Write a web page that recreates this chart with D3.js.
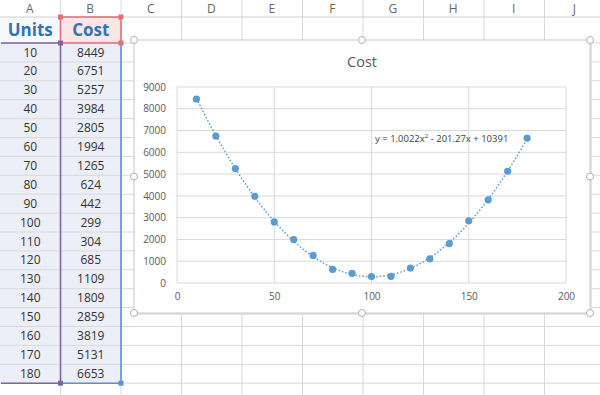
<!DOCTYPE html>
<html>
<head>
<meta charset="utf-8">
<script src="https://cdn.jsdelivr.net/npm/d3@7"></script>
<style>
  body { margin: 0; background: #fff; }
  svg { display: block; font-family: "Open Sans", "Liberation Sans", sans-serif; }
</style>
</head>
<body>
<svg id="sheet" width="600" height="395"></svg>
<script>
// spreadsheet data
const units = [10, 20, 30, 40, 50, 60, 70, 80, 90, 100, 110, 120, 130, 140, 150, 160, 170, 180];
const cost = [8449, 6751, 5257, 3984, 2805, 1994, 1265, 624, 442, 299, 304, 685, 1109, 1809, 2859, 3819, 5131, 6653];
const colLetters = ["A", "B", "C", "D", "E", "F", "G", "H", "I", "J"];
const xTicks = [0, 50, 100, 150, 200];
const yTicks = [0, 1000, 2000, 3000, 4000, 5000, 6000, 7000, 8000, 9000];
// trendline coefficients as printed on the chart (a, b, c)
const trendCoef = [1.0022, -201.27, 10391];

const svg = d3.select("#sheet");

// ---- grid of cells ----
const COL_W = 60.5;
const HEAD_H = 17, ROW1_B = 43, ROW_H = 18.9;
const colX = i => i * COL_W;       // left edge of column i
const rowY = i => ROW1_B + i * ROW_H; // top of data row i

const grid = svg.append("g");

// tinted selection cells
grid.append("rect").attr("x", 0).attr("y", HEAD_H).attr("width", colX(1)).attr("height", ROW1_B - HEAD_H).attr("fill", "#f7f8fb");
grid.append("rect").attr("x", colX(1)).attr("y", HEAD_H).attr("width", COL_W).attr("height", ROW1_B - HEAD_H).attr("fill", "#fbe6e7");
grid.append("rect").attr("x", 0).attr("y", ROW1_B).attr("width", colX(2)).attr("height", ROW_H * units.length).attr("fill", "#eceff7");

// gridlines
for (let i = 1; i <= 10; i++) {
  grid.append("line").attr("x1", colX(i)).attr("x2", colX(i)).attr("y1", 0).attr("y2", 395)
    .attr("stroke", "#d9d9d9");
}
grid.append("line").attr("x1", 0).attr("x2", 600).attr("y1", HEAD_H).attr("y2", HEAD_H).attr("stroke", "#cfcfcf");
grid.append("line").attr("x1", 0).attr("x2", 600).attr("y1", ROW1_B).attr("y2", ROW1_B).attr("stroke", "#d9d9d9");
for (let i = 1; i <= 19; i++) {
  grid.append("line").attr("x1", 0).attr("x2", 600).attr("y1", rowY(i)).attr("y2", rowY(i))
    .attr("stroke", "#d9d9d9");
}

// column letters
grid.selectAll("text.col").data(colLetters).join("text")
  .attr("x", (d, i) => colX(i) + COL_W / 2 - 0.5)
  .attr("y", 13)
  .attr("text-anchor", "middle")
  .attr("font-size", 12)
  .attr("fill", "#666")
  .text(d => d);

// header row
grid.append("text").attr("x", COL_W / 2).attr("y", 36).attr("text-anchor", "middle")
  .attr("font-size", 17).attr("font-weight", "bold").attr("fill", "#2f75b5").text("Units");
grid.append("text").attr("x", COL_W * 1.5).attr("y", 36).attr("text-anchor", "middle")
  .attr("font-size", 17).attr("font-weight", "bold").attr("fill", "#2f75b5").text("Cost");

// values
grid.selectAll("text.u").data(units).join("text")
  .attr("x", COL_W / 2).attr("y", (d, i) => rowY(i) + 13.5)
  .attr("text-anchor", "middle").attr("font-size", 12).attr("fill", "#333").text(d => d);
grid.selectAll("text.c").data(cost).join("text")
  .attr("x", COL_W * 1.5).attr("y", (d, i) => rowY(i) + 13.5)
  .attr("text-anchor", "middle").attr("font-size", 12).attr("fill", "#333").text(d => d);

// range highlight borders
const yEnd = rowY(units.length);
const purple = "#8064a2", blue = "#5b8fd6", red = "#e0707a";
grid.append("path").attr("d", `M1,${ROW1_B}H${colX(1)}V${yEnd}H1`).attr("fill", "none").attr("stroke", purple).attr("stroke-width", 1.6);
grid.append("path").attr("d", `M${colX(1)},${yEnd}H${colX(2)}V${ROW1_B}`).attr("fill", "none").attr("stroke", blue).attr("stroke-width", 1.6);
grid.append("path").attr("d", `M${colX(1)},${ROW1_B}V${HEAD_H}H${colX(2)}V${ROW1_B}H${colX(1)}`).attr("fill", "none").attr("stroke", red).attr("stroke-width", 1.6);
[[colX(1), HEAD_H, red], [colX(2), HEAD_H, red], [colX(2), ROW1_B, red], [colX(1), ROW1_B, purple],
 [colX(1), yEnd, purple], [colX(2), yEnd, blue]].forEach(([x, y, c]) => {
  grid.append("rect").attr("x", x - 2.5).attr("y", y - 2.5).attr("width", 5).attr("height", 5).attr("fill", c);
});

// ---- chart ----
const frame = { x: 134, y: 40, w: 456, h: 273 };
const chartG = svg.append("g");
chartG.append("rect").attr("x", frame.x + 2).attr("y", frame.y + 2).attr("width", frame.w).attr("height", frame.h)
  .attr("fill", "#e4e4e4");
chartG.append("rect").attr("x", frame.x).attr("y", frame.y).attr("width", frame.w).attr("height", frame.h)
  .attr("fill", "#fff").attr("stroke", "#c8c8c8");

const xScale = d3.scaleLinear().domain([0, 200]).range([177, 566]);
const yScale = d3.scaleLinear().domain([0, 9000]).range([283, 87]);

// gridlines
chartG.selectAll("line.hg").data(yTicks).join("line")
  .attr("x1", xScale(0)).attr("x2", xScale(200))
  .attr("y1", d => yScale(d)).attr("y2", d => yScale(d))
  .attr("stroke", "#d9d9d9");
chartG.selectAll("line.vg").data(xTicks).join("line")
  .attr("x1", d => xScale(d)).attr("x2", d => xScale(d))
  .attr("y1", yScale(0)).attr("y2", yScale(9000))
  .attr("stroke", "#d9d9d9");

// axes labels via d3 axes
const xAxis = chartG.append("g").attr("transform", `translate(0,${yScale(0)})`)
  .call(d3.axisBottom(xScale).tickValues(xTicks).tickSize(0).tickPadding(10));
const yAxis = chartG.append("g").attr("transform", `translate(${xScale(0) - 10},0)`)
  .call(d3.axisLeft(yScale).tickValues(yTicks).tickSize(0).tickPadding(1).tickFormat(d3.format("d")));
[xAxis, yAxis].forEach(a => {
  a.select(".domain").remove();
  a.selectAll("text").attr("font-size", 10).attr("fill", "#595959")
    .style("font-family", "'Open Sans', 'Liberation Sans', sans-serif");
});
xAxis.selectAll("text").attr("dy", "0.71em");

// title
chartG.append("text").attr("x", frame.x + frame.w / 2).attr("y", 67).attr("text-anchor", "middle")
  .attr("font-size", 14.5).attr("fill", "#595959").text("Cost");

// trendline
const trendX = d3.range(units[0], units[units.length - 1] + 0.5, 1);
const line = d3.line()
  .x(d => xScale(d))
  .y(d => yScale(trendCoef[0] * d * d + trendCoef[1] * d + trendCoef[2]))
  .curve(d3.curveMonotoneX);
chartG.append("path").attr("d", line(trendX)).attr("fill", "none")
  .attr("stroke", "#5b9bd5").attr("stroke-width", 1.5).attr("stroke-dasharray", "1.5,2");

// points
chartG.selectAll("circle.pt").data(units).join("circle")
  .attr("cx", d => xScale(d)).attr("cy", (d, i) => yScale(cost[i]))
  .attr("r", 3.6).attr("fill", "#5b9bd5");

// equation
const eq = chartG.append("text").attr("x", 375).attr("y", 142).attr("font-size", 9.5).attr("fill", "#404040");
eq.append("tspan").text("y = 1.0022x");
eq.append("tspan").attr("font-size", 6).attr("dy", -4).text("2");
eq.append("tspan").attr("dy", 4).text(" - 201.27x + 10391");

// selection handles
const hx = [frame.x, frame.x + frame.w / 2, frame.x + frame.w];
const hy = [frame.y, frame.y + frame.h / 2, frame.y + frame.h];
hx.forEach(x => hy.forEach(y => {
  if (x === hx[1] && y === hy[1]) return;
  chartG.append("circle").attr("cx", x).attr("cy", y).attr("r", 3.5)
    .attr("fill", "#fff").attr("stroke", "#b0b0b0");
}));
</script>
</body>
</html>
